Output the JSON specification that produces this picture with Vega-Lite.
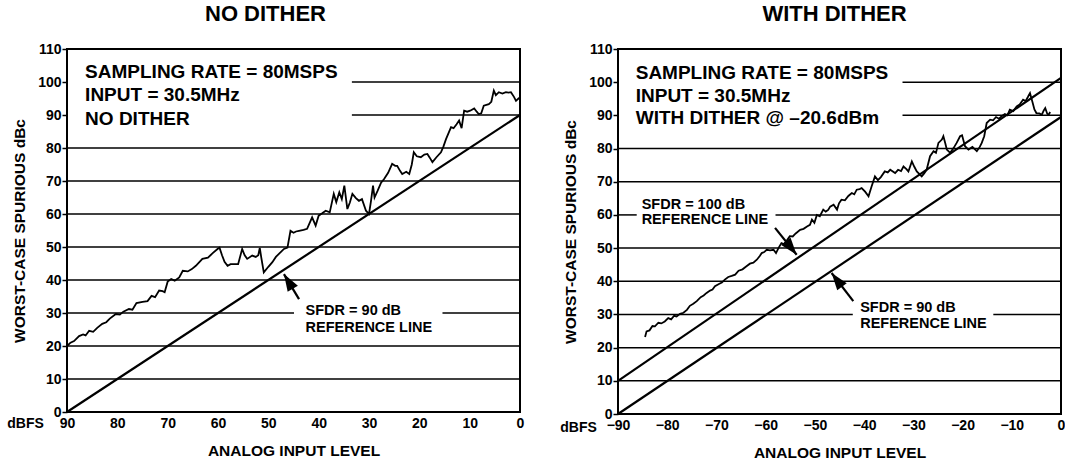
{
  "$schema": "https://vega.github.io/schema/vega-lite/v6.json",
  "background": "white",
  "padding": {"left": 6, "top": 2, "right": 0, "bottom": 0},
  "spacing": 33,
  "config": {
    "font": "Liberation Sans",
    "view": {"stroke": "black", "strokeWidth": 2},
    "axis": {
      "labelFont": "Liberation Sans", "labelFontWeight": "bold", "labelFontSize": 14, "labelColor": "black",
      "titleFont": "Liberation Sans", "titleFontWeight": "bold", "titleFontSize": 15.5, "titleColor": "black",
      "domain": false, "grid": false, "tickColor": "black", "tickWidth": 1.5
    },
    "title": {"font": "Liberation Sans", "fontWeight": "bold", "fontSize": 22, "color": "black", "offset": 16}
  },
  "datasets": {
    "gridL": [
      {"y": 10, "x": 90, "x2": 0}, {"y": 20, "x": 90, "x2": 0},
      {"y": 30, "x": 90, "x2": 44.9}, {"y": 30, "x": 15.4, "x2": 0},
      {"y": 40, "x": 90, "x2": 0}, {"y": 50, "x": 90, "x2": 0},
      {"y": 60, "x": 90, "x2": 0}, {"y": 70, "x": 90, "x2": 0},
      {"y": 80, "x": 90, "x2": 0}, {"y": 90, "x": 33.4, "x2": 0},
      {"y": 100, "x": 33.4, "x2": 0}
    ],
    "gridR": [
      {"y": 10, "x": -90, "x2": 0}, {"y": 20, "x": -90, "x2": 0},
      {"y": 30, "x": -90, "x2": -42.3}, {"y": 30, "x": -13.75, "x2": 0},
      {"y": 40, "x": -90, "x2": 0}, {"y": 50, "x": -90, "x2": 0},
      {"y": 60, "x": -90, "x2": -86.2}, {"y": 60, "x": -58.0, "x2": 0},
      {"y": 70, "x": -90, "x2": 0}, {"y": 80, "x": -90, "x2": 0},
      {"y": 90, "x": -32.2, "x2": 0}, {"y": 100, "x": -32.2, "x2": 0}
    ],
    "refL": [
      {"s": "SFDR 90", "x": 90, "y": 0}, {"s": "SFDR 90", "x": 0, "y": 90}
    ],
    "refR": [
      {"s": "SFDR 100", "x": -90, "y": 10}, {"s": "SFDR 100", "x": 0, "y": 101.3},
      {"s": "SFDR 90", "x": -90, "y": 0}, {"s": "SFDR 90", "x": 0, "y": 89.5}
    ],
    "noDither": [
      {"x": 90, "y": 20}, {"x": 89.3, "y": 21}, {"x": 88.6, "y": 21.5}, {"x": 87.6, "y": 23},
      {"x": 86.8, "y": 23.5}, {"x": 86.3, "y": 23.2}, {"x": 85.6, "y": 24.6}, {"x": 84.8, "y": 24.3},
      {"x": 84, "y": 25.5}, {"x": 83, "y": 26.7}, {"x": 82.2, "y": 27.2}, {"x": 81.5, "y": 28.3},
      {"x": 80.3, "y": 29.7}, {"x": 79.5, "y": 29.5}, {"x": 78.8, "y": 30.4}, {"x": 77.7, "y": 31.2},
      {"x": 77, "y": 31}, {"x": 76.2, "y": 33}, {"x": 75, "y": 33.4}, {"x": 74, "y": 33.6},
      {"x": 73.2, "y": 35.2}, {"x": 72.5, "y": 34.8}, {"x": 71.7, "y": 36.8}, {"x": 71, "y": 36.6},
      {"x": 70.6, "y": 36.3}, {"x": 70, "y": 39.5}, {"x": 69.3, "y": 40.3}, {"x": 68.6, "y": 39.8},
      {"x": 67.7, "y": 40.8}, {"x": 67, "y": 42.8}, {"x": 66, "y": 42.6}, {"x": 65.2, "y": 43.3},
      {"x": 64.4, "y": 44.3}, {"x": 63.1, "y": 46.4}, {"x": 62, "y": 46.8}, {"x": 61, "y": 48.2},
      {"x": 60.1, "y": 49.4}, {"x": 59.7, "y": 49.8}, {"x": 59.2, "y": 47.5}, {"x": 58.7, "y": 45.5},
      {"x": 58.1, "y": 44.3}, {"x": 57.5, "y": 44.8}, {"x": 56.8, "y": 44.8}, {"x": 56, "y": 44.8},
      {"x": 55.2, "y": 49.4}, {"x": 54.7, "y": 47.5}, {"x": 54.2, "y": 46.4}, {"x": 53.2, "y": 47.4},
      {"x": 52.5, "y": 47}, {"x": 52, "y": 47.5}, {"x": 51.7, "y": 49.7}, {"x": 51.4, "y": 46.8},
      {"x": 50.9, "y": 42.3}, {"x": 50, "y": 44}, {"x": 49.2, "y": 45.4}, {"x": 48.5, "y": 47},
      {"x": 47.9, "y": 47.9}, {"x": 46.9, "y": 49.4}, {"x": 46.2, "y": 49.8}, {"x": 45.6, "y": 54.9},
      {"x": 45, "y": 54.3}, {"x": 44.5, "y": 54.7}, {"x": 43.9, "y": 54.9}, {"x": 43, "y": 55.2},
      {"x": 42.3, "y": 55.5}, {"x": 41.3, "y": 59}, {"x": 40.6, "y": 56.5}, {"x": 40, "y": 59.5},
      {"x": 39.3, "y": 60.2}, {"x": 38.6, "y": 61}, {"x": 37.8, "y": 60.5}, {"x": 37, "y": 66.1},
      {"x": 36.5, "y": 63.6}, {"x": 35.9, "y": 66.6}, {"x": 35.4, "y": 64.5}, {"x": 34.9, "y": 68.6},
      {"x": 34.3, "y": 61.5}, {"x": 33.8, "y": 63.5}, {"x": 33.3, "y": 66.1}, {"x": 32.6, "y": 64.8},
      {"x": 32, "y": 64}, {"x": 31.4, "y": 64.5}, {"x": 30.6, "y": 61}, {"x": 30, "y": 60},
      {"x": 29.6, "y": 64}, {"x": 29.2, "y": 68.6}, {"x": 28.9, "y": 65}, {"x": 28.3, "y": 67},
      {"x": 27.6, "y": 69.5}, {"x": 27, "y": 70.6}, {"x": 26.2, "y": 72.5}, {"x": 25.4, "y": 75.2},
      {"x": 24.8, "y": 74.6}, {"x": 24.4, "y": 74.6}, {"x": 23.8, "y": 73}, {"x": 23.4, "y": 72.1},
      {"x": 22.6, "y": 72.8}, {"x": 22, "y": 72.1}, {"x": 21.5, "y": 75}, {"x": 21.1, "y": 78.7},
      {"x": 20.5, "y": 77.5}, {"x": 19.7, "y": 77.2}, {"x": 19, "y": 78}, {"x": 18.4, "y": 78.2},
      {"x": 17.9, "y": 77}, {"x": 17.4, "y": 75.7}, {"x": 16.6, "y": 77.2}, {"x": 15.7, "y": 78.7},
      {"x": 15.2, "y": 80.5}, {"x": 14.7, "y": 82.7}, {"x": 14.2, "y": 84.5}, {"x": 13.7, "y": 86.3},
      {"x": 13.2, "y": 86}, {"x": 12.6, "y": 87.2}, {"x": 12.1, "y": 88.3}, {"x": 11.6, "y": 86},
      {"x": 11.1, "y": 91.3}, {"x": 10.5, "y": 91}, {"x": 9.9, "y": 91.3}, {"x": 9.1, "y": 92},
      {"x": 8.6, "y": 91}, {"x": 8.2, "y": 90.3}, {"x": 7.7, "y": 90.5}, {"x": 7.2, "y": 92.8},
      {"x": 6.2, "y": 93.3}, {"x": 5.7, "y": 94}, {"x": 5.2, "y": 97.4}, {"x": 4.8, "y": 96},
      {"x": 4.2, "y": 96.9}, {"x": 3.5, "y": 96.5}, {"x": 2.8, "y": 96.9}, {"x": 2.3, "y": 96.8},
      {"x": 1.8, "y": 96.9}, {"x": 1.2, "y": 95.5}, {"x": 0.8, "y": 94.3}, {"x": 0.3, "y": 95},
      {"x": 0, "y": 95.3}
    ],
    "withDither": [
      {"x": -84.5, "y": 23.2}, {"x": -84.2, "y": 24.9}, {"x": -83.6, "y": 25.2}, {"x": -83, "y": 26.5},
      {"x": -82.5, "y": 26.4}, {"x": -81.8, "y": 27.5}, {"x": -81.2, "y": 27.3}, {"x": -80.5, "y": 27.9},
      {"x": -79.8, "y": 28.9}, {"x": -79.2, "y": 28.5}, {"x": -78.6, "y": 29.6}, {"x": -78.1, "y": 29.4},
      {"x": -77.4, "y": 30.2}, {"x": -76.7, "y": 30.5}, {"x": -76, "y": 31.4}, {"x": -75.4, "y": 32.6},
      {"x": -74.7, "y": 33.2}, {"x": -74, "y": 34}, {"x": -73.2, "y": 35.2}, {"x": -72.6, "y": 35.7},
      {"x": -72, "y": 36.5}, {"x": -71.3, "y": 37.2}, {"x": -70.8, "y": 37.5}, {"x": -70.3, "y": 38.5},
      {"x": -69.5, "y": 39.2}, {"x": -68.9, "y": 39.6}, {"x": -68.3, "y": 40.5}, {"x": -67.6, "y": 41.3},
      {"x": -66.9, "y": 41.6}, {"x": -66.2, "y": 42}, {"x": -65.5, "y": 43.2}, {"x": -64.7, "y": 43.6},
      {"x": -63.9, "y": 44.5}, {"x": -63.2, "y": 45.3}, {"x": -62.5, "y": 45.6}, {"x": -61.8, "y": 46.5},
      {"x": -61.2, "y": 47.6}, {"x": -60.8, "y": 48.5}, {"x": -60.3, "y": 48.8}, {"x": -59.8, "y": 49.5},
      {"x": -59.1, "y": 49.3}, {"x": -58.4, "y": 49.5}, {"x": -57.9, "y": 48.5}, {"x": -57.4, "y": 50},
      {"x": -56.8, "y": 51.5}, {"x": -56.3, "y": 51.2}, {"x": -55.7, "y": 52.3}, {"x": -55.1, "y": 53.6},
      {"x": -54.5, "y": 53.5}, {"x": -53.9, "y": 54.4}, {"x": -53, "y": 55.5}, {"x": -52.3, "y": 55.8},
      {"x": -51.6, "y": 56.5}, {"x": -51, "y": 57}, {"x": -50.6, "y": 58.6}, {"x": -50.1, "y": 57.6},
      {"x": -49.6, "y": 60}, {"x": -49, "y": 59.6}, {"x": -48.3, "y": 61.6}, {"x": -47.8, "y": 61},
      {"x": -47.3, "y": 61.5}, {"x": -46.9, "y": 62.5}, {"x": -46.2, "y": 63.1}, {"x": -45.5, "y": 61.6},
      {"x": -45.1, "y": 63.5}, {"x": -44.6, "y": 64.6}, {"x": -43.9, "y": 64.4}, {"x": -43.2, "y": 65.7},
      {"x": -42.5, "y": 66.6}, {"x": -42, "y": 66.2}, {"x": -41.5, "y": 67.6}, {"x": -40.9, "y": 67.8},
      {"x": -40.5, "y": 68.1}, {"x": -39.8, "y": 67}, {"x": -39.1, "y": 65.6}, {"x": -38.5, "y": 68.5},
      {"x": -37.8, "y": 71.6}, {"x": -37.2, "y": 70.5}, {"x": -36.6, "y": 71.4}, {"x": -35.8, "y": 73.1},
      {"x": -35.2, "y": 72.8}, {"x": -34.7, "y": 73.6}, {"x": -33.7, "y": 72.6}, {"x": -33.1, "y": 73.6},
      {"x": -32.5, "y": 73.2}, {"x": -32, "y": 74.6}, {"x": -31.4, "y": 73.8}, {"x": -31, "y": 73.1},
      {"x": -30.3, "y": 76.1}, {"x": -29.8, "y": 74.5}, {"x": -29.3, "y": 73.1}, {"x": -28.3, "y": 71.6},
      {"x": -27.8, "y": 72.5}, {"x": -27.3, "y": 73.6}, {"x": -26.6, "y": 77.7}, {"x": -25.9, "y": 79.2},
      {"x": -25.4, "y": 78.7}, {"x": -24.9, "y": 81.7}, {"x": -24.2, "y": 82.7}, {"x": -23.9, "y": 83.7},
      {"x": -23.5, "y": 81.5}, {"x": -23.2, "y": 79.7}, {"x": -22.5, "y": 78.7}, {"x": -21.8, "y": 80.2},
      {"x": -21.2, "y": 81.7}, {"x": -20.5, "y": 83.7}, {"x": -20.1, "y": 84}, {"x": -19.5, "y": 80.7},
      {"x": -18.8, "y": 79.7}, {"x": -18, "y": 80.5}, {"x": -17.1, "y": 79.2}, {"x": -16.5, "y": 80.5},
      {"x": -16.1, "y": 81.7}, {"x": -15.6, "y": 83.7}, {"x": -15.1, "y": 87.7}, {"x": -14.4, "y": 88.7},
      {"x": -13.8, "y": 88.5}, {"x": -13.2, "y": 89.5}, {"x": -12.6, "y": 89}, {"x": -12, "y": 89.8},
      {"x": -11.4, "y": 90.4}, {"x": -10.9, "y": 90}, {"x": -10.4, "y": 91.7}, {"x": -9.7, "y": 91.3},
      {"x": -9, "y": 92.7}, {"x": -8.4, "y": 93.3}, {"x": -7.7, "y": 94.7}, {"x": -7.2, "y": 94.3},
      {"x": -6.7, "y": 95.6}, {"x": -6.3, "y": 96.7}, {"x": -5.8, "y": 94}, {"x": -5.4, "y": 91.8},
      {"x": -5, "y": 90.7}, {"x": -4.4, "y": 90.6}, {"x": -3.9, "y": 90.2}, {"x": -3.5, "y": 91.5},
      {"x": -3.2, "y": 92.2}, {"x": -2.8, "y": 90.5}, {"x": -2.5, "y": 90.2}, {"x": -2.2, "y": 91}
    ]
  },
  "hconcat": [
    {
      "width": 453,
      "height": 363,
      "title": {"text": "NO DITHER", "dx": -28},
      "encoding": {
        "x": {"field": "x", "type": "quantitative",
          "scale": {"domain": [0, 90], "reverse": true, "nice": false, "zero": false},
          "axis": {"title": "ANALOG INPUT LEVEL", "values": [90, 80, 70, 60, 50, 40, 30, 20, 10, 0],
            "ticks": false, "tickSize": 0, "labelPadding": 4, "titlePadding": 13, "labelFlush": false}},
        "y": {"field": "y", "type": "quantitative",
          "scale": {"domain": [0, 110], "nice": false, "zero": false},
          "axis": {"title": "WORST-CASE SPURIOUS dBc", "values": [0, 10, 20, 30, 40, 50, 60, 70, 80, 90, 100, 110],
            "tickSize": 5, "labelPadding": 1, "titlePadding": 10, "labelFlush": false}}
      },
      "layer": [
        {"data": {"name": "gridL"}, "mark": {"type": "rule", "color": "black", "strokeWidth": 1.5}, "encoding": {"x2": {"field": "x2"}}},
        {"data": {"name": "refL"}, "mark": {"type": "line", "color": "black", "strokeWidth": 2.2}, "encoding": {"detail": {"field": "s"}}},
        {"data": {"name": "noDither"}, "mark": {"type": "line", "color": "black", "strokeWidth": 1.8}, "encoding": {}},
        {"data": {"values": [{"x": 86.4, "y": 103.1, "text": "SAMPLING RATE = 80MSPS"}, {"x": 86.4, "y": 96.0, "text": "INPUT = 30.5MHz"}, {"x": 86.4, "y": 88.9, "text": "NO DITHER"}]},
          "mark": {"type": "text", "align": "left", "baseline": "middle", "font": "Liberation Sans", "fontWeight": "bold", "fontSize": 19, "color": "black"},
          "encoding": {"text": {"field": "text"}}},
        {"data": {"values": [{"x": 42.6, "y": 30.5, "text": "SFDR = 90 dB"}, {"x": 42.6, "y": 25.45, "text": "REFERENCE LINE"}]},
          "mark": {"type": "text", "align": "left", "baseline": "middle", "font": "Liberation Sans", "fontWeight": "bold", "fontSize": 14.5, "color": "black"},
          "encoding": {"text": {"field": "text"}}},
        {"data": {"values": [{"x": 94.6, "y": -3.6, "text": "dBFS"}]},
          "mark": {"type": "text", "align": "right", "baseline": "middle", "font": "Liberation Sans", "fontWeight": "bold", "fontSize": 14, "color": "black"},
          "encoding": {"text": {"field": "text"}}},
        {"data": {"values": [{"x": 43.9, "y": 34.2, "x2": 46.9, "y2": 41.8}]},
          "mark": {"type": "rule", "color": "black", "strokeWidth": 2.2},
          "encoding": {"x2": {"field": "x2"}, "y2": {"field": "y2"}}},
        {"data": {"values": [{"x": 46.9, "y": 41.8}]},
          "mark": {"type": "point", "shape": "M0,0L0.45,1.3L-0.45,1.3Z", "size": 700, "filled": true, "color": "black", "opacity": 1, "angle": 329},
          "encoding": {}}
      ]
    },
    {
      "width": 443,
      "height": 365,
      "title": {"text": "WITH DITHER", "dx": -5},
      "encoding": {
        "x": {"field": "x", "type": "quantitative",
          "scale": {"domain": [-90, 0], "nice": false, "zero": false},
          "axis": {"title": "ANALOG INPUT LEVEL", "values": [-90, -80, -70, -60, -50, -40, -30, -20, -10, 0],
            "ticks": false, "tickSize": 0, "labelPadding": 4, "titlePadding": 13, "labelFlush": false}},
        "y": {"field": "y", "type": "quantitative",
          "scale": {"domain": [0, 110], "nice": false, "zero": false},
          "axis": {"title": "WORST-CASE SPURIOUS dBc", "values": [0, 10, 20, 30, 40, 50, 60, 70, 80, 90, 100, 110],
            "tickSize": 5, "labelPadding": 1, "titlePadding": 10, "labelFlush": false}}
      },
      "layer": [
        {"data": {"name": "gridR"}, "mark": {"type": "rule", "color": "black", "strokeWidth": 1.5}, "encoding": {"x2": {"field": "x2"}}},
        {"data": {"name": "refR"}, "mark": {"type": "line", "color": "black", "strokeWidth": 2.2}, "encoding": {"detail": {"field": "s"}}},
        {"data": {"name": "withDither"}, "mark": {"type": "line", "color": "black", "strokeWidth": 1.8}, "encoding": {}},
        {"data": {"values": [{"x": -86.4, "y": 102.9, "text": "SAMPLING RATE = 80MSPS"}, {"x": -86.4, "y": 95.8, "text": "INPUT = 30.5MHz"}, {"x": -86.4, "y": 89.2, "text": "WITH DITHER @ –20.6dBm"}]},
          "mark": {"type": "text", "align": "left", "baseline": "middle", "font": "Liberation Sans", "fontWeight": "bold", "fontSize": 19, "color": "black"},
          "encoding": {"text": {"field": "text"}}},
        {"data": {"values": [{"x": -85.2, "y": 63.1, "text": "SFDR = 100 dB"}, {"x": -85.2, "y": 58.6, "text": "REFERENCE LINE"}, {"x": -40.8, "y": 32.0, "text": "SFDR = 90 dB"}, {"x": -40.8, "y": 27.2, "text": "REFERENCE LINE"}]},
          "mark": {"type": "text", "align": "left", "baseline": "middle", "font": "Liberation Sans", "fontWeight": "bold", "fontSize": 14.5, "color": "black"},
          "encoding": {"text": {"field": "text"}}},
        {"data": {"values": [{"x": -94.3, "y": -4.2, "text": "dBFS"}]},
          "mark": {"type": "text", "align": "right", "baseline": "middle", "font": "Liberation Sans", "fontWeight": "bold", "fontSize": 14, "color": "black"},
          "encoding": {"text": {"field": "text"}}},
        {"data": {"values": [{"x": -58.1, "y": 56.1, "x2": -53.7, "y2": 48.0}, {"x": -42.2, "y": 34.0, "x2": -46.6, "y2": 42.5}]},
          "mark": {"type": "rule", "color": "black", "strokeWidth": 2.2},
          "encoding": {"x2": {"field": "x2"}, "y2": {"field": "y2"}}},
        {"data": {"values": [{"x": -53.7, "y": 48.0}]},
          "mark": {"type": "point", "shape": "M0,0L0.45,1.3L-0.45,1.3Z", "size": 700, "filled": true, "color": "black", "opacity": 1, "angle": 141},
          "encoding": {}},
        {"data": {"values": [{"x": -46.6, "y": 42.5}]},
          "mark": {"type": "point", "shape": "M0,0L0.45,1.3L-0.45,1.3Z", "size": 700, "filled": true, "color": "black", "opacity": 1, "angle": 323},
          "encoding": {}}
      ]
    }
  ]
}
